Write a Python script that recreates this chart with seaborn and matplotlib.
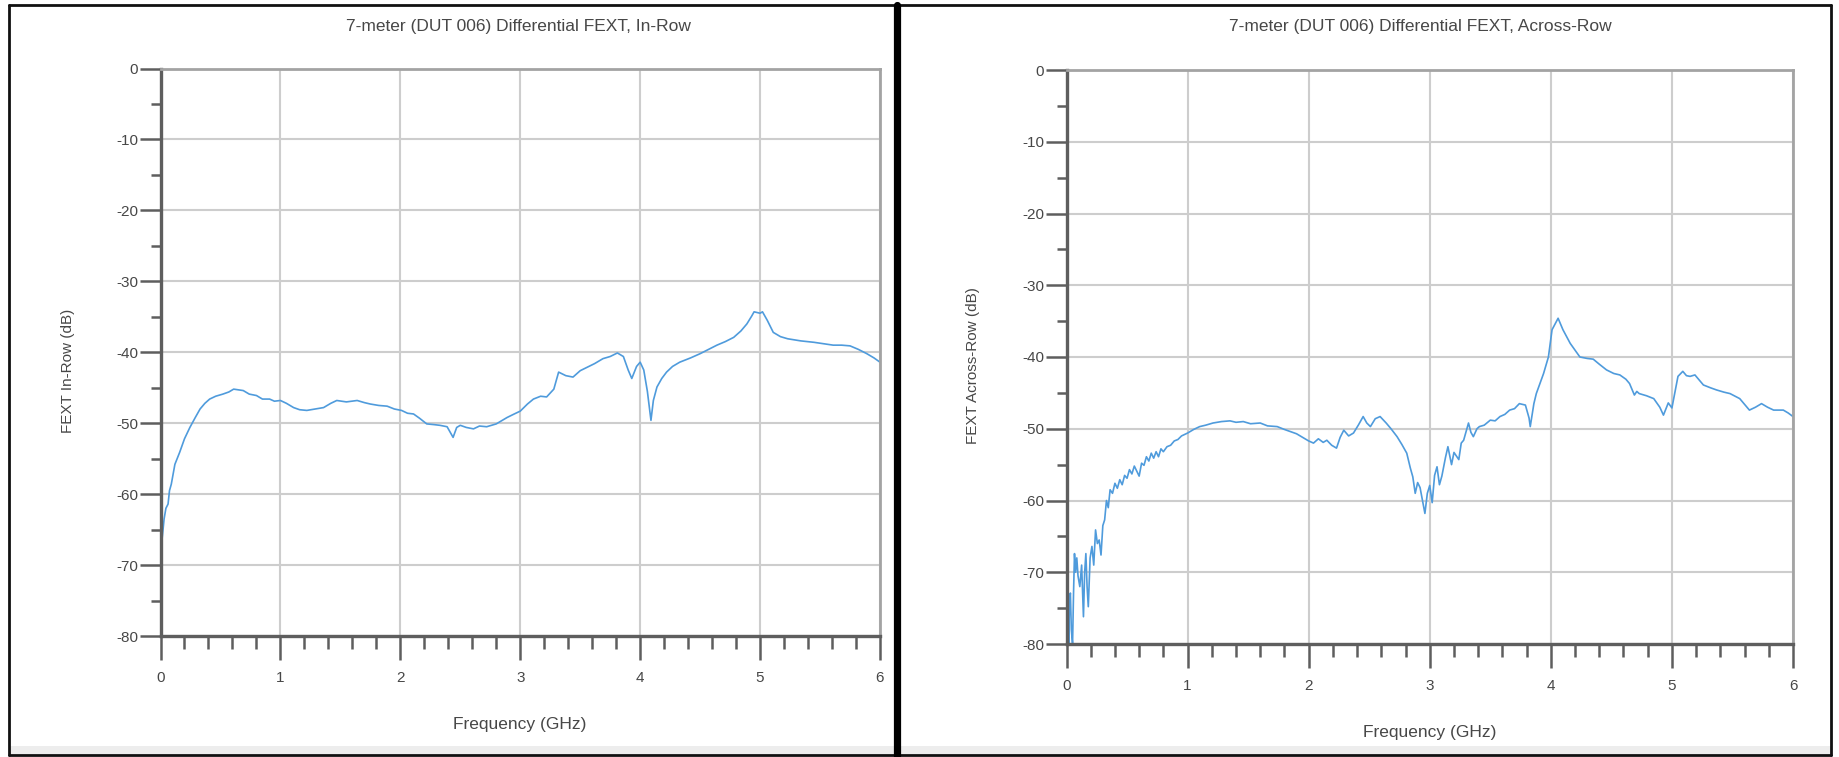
import matplotlib
matplotlib.use("Agg")
import matplotlib.pyplot as plt
from matplotlib.patches import Rectangle
from matplotlib.lines import Line2D
from matplotlib.ticker import MultipleLocator
import numpy as np
import pandas as pd
import seaborn as sns

# ---- measured FEXT, in-row pair ----
inrow_freq = [0.000, 0.008, 0.012, 0.020, 0.030, 0.045, 0.063, 0.075, 0.090, 0.120,
              0.160, 0.200, 0.245, 0.290, 0.330, 0.370, 0.410, 0.460, 0.520, 0.570,
              0.610, 0.650, 0.690, 0.740, 0.800, 0.850, 0.910, 0.950, 1.000, 1.050,
              1.110, 1.160, 1.220, 1.290, 1.360, 1.420, 1.470, 1.550, 1.640, 1.700,
              1.750, 1.820, 1.890, 1.950, 2.010, 2.060, 2.110, 2.160, 2.220, 2.280,
              2.330, 2.390, 2.440, 2.470, 2.500, 2.550, 2.610, 2.660, 2.720, 2.800,
              2.850, 2.890, 2.950, 3.000, 3.060, 3.110, 3.170, 3.220, 3.280, 3.320,
              3.380, 3.440, 3.500, 3.560, 3.620, 3.690, 3.750, 3.810, 3.860, 3.900,
              3.930, 3.970, 4.000, 4.030, 4.060, 4.090, 4.110, 4.140, 4.180, 4.220,
              4.270, 4.330, 4.420, 4.500, 4.570, 4.640, 4.710, 4.780, 4.840, 4.890,
              4.930, 4.950, 5.000, 5.020, 5.060, 5.110, 5.170, 5.230, 5.340, 5.450,
              5.530, 5.610, 5.680, 5.750, 5.820, 5.890, 5.950, 6.000]
inrow_db = [-66.8, -68.0, -66.5, -65.2, -63.5, -62.0, -61.4, -59.5, -58.6, -55.8,
            -54.1, -52.2, -50.6, -49.2, -48.0, -47.2, -46.6, -46.2, -45.9, -45.6,
            -45.2, -45.3, -45.4, -45.9, -46.1, -46.6, -46.6, -46.9, -46.8, -47.2,
            -47.8, -48.1, -48.2, -48.0, -47.8, -47.2, -46.8, -47.0, -46.8, -47.1,
            -47.3, -47.5, -47.6, -48.0, -48.2, -48.6, -48.7, -49.3, -50.1, -50.2,
            -50.3, -50.5, -52.0, -50.6, -50.3, -50.6, -50.8, -50.4, -50.5, -50.1,
            -49.6, -49.2, -48.7, -48.3, -47.3, -46.6, -46.2, -46.3, -45.2, -42.8,
            -43.3, -43.5, -42.6, -42.1, -41.6, -40.9, -40.6, -40.1, -40.6, -42.5,
            -43.7, -42.0, -41.4, -42.5, -45.5, -49.6, -46.8, -44.9, -43.7, -42.8,
            -42.0, -41.4, -40.8, -40.2, -39.6, -39.0, -38.5, -37.9, -37.0, -36.0,
            -34.9, -34.3, -34.5, -34.3, -35.5, -37.2, -37.8, -38.1, -38.4, -38.6,
            -38.8, -39.0, -39.0, -39.1, -39.6, -40.2, -40.8, -41.4]

# ---- measured FEXT, across-row pair ----
across_freq = [0.000, 0.005, 0.010, 0.018, 0.025, 0.032, 0.040, 0.050, 0.058, 0.066,
               0.075, 0.085, 0.095, 0.110, 0.125, 0.140, 0.150, 0.160, 0.170, 0.180,
               0.195, 0.210, 0.225, 0.240, 0.255, 0.270, 0.285, 0.300, 0.315, 0.330,
               0.345, 0.360, 0.380, 0.400, 0.420, 0.440, 0.460, 0.480, 0.500, 0.520,
               0.540, 0.560, 0.580, 0.600, 0.620, 0.640, 0.660, 0.680, 0.700, 0.720,
               0.740, 0.760, 0.780, 0.800, 0.830, 0.860, 0.890, 0.920, 0.950, 1.000,
               1.050, 1.100, 1.150, 1.210, 1.280, 1.350, 1.400, 1.460, 1.520, 1.600,
               1.660, 1.740, 1.800, 1.850, 1.900, 1.960, 2.000, 2.040, 2.080, 2.120,
               2.150, 2.190, 2.230, 2.260, 2.290, 2.330, 2.370, 2.410, 2.450, 2.480,
               2.510, 2.550, 2.590, 2.640, 2.680, 2.730, 2.770, 2.810, 2.840, 2.860,
               2.880, 2.900, 2.920, 2.940, 2.960, 2.980, 3.000, 3.020, 3.040, 3.060,
               3.080, 3.100, 3.130, 3.150, 3.180, 3.200, 3.240, 3.260, 3.280, 3.320,
               3.340, 3.360, 3.390, 3.410, 3.450, 3.500, 3.540, 3.580, 3.620, 3.660,
               3.700, 3.740, 3.790, 3.820, 3.830, 3.860, 3.880, 3.940, 3.980, 4.010,
               4.060, 4.100, 4.160, 4.240, 4.300, 4.350, 4.400, 4.460, 4.520, 4.570,
               4.620, 4.650, 4.690, 4.710, 4.730, 4.790, 4.850, 4.900, 4.930, 4.970,
               5.000, 5.050, 5.090, 5.120, 5.150, 5.190, 5.260, 5.320, 5.370, 5.430,
               5.480, 5.560, 5.600, 5.640, 5.690, 5.740, 5.790, 5.840, 5.920, 5.960,
               6.000]
across_db = [-53.5, -62.0, -70.0, -80.0, -74.0, -72.9, -78.0, -80.0, -73.0, -67.4,
             -70.0, -68.0, -70.5, -72.0, -69.0, -76.2, -70.0, -67.4, -72.0, -74.8,
             -68.0, -66.4, -69.0, -64.1, -66.0, -65.5, -67.6, -63.5, -62.7, -60.0,
             -61.0, -58.5, -59.0, -57.6, -58.3, -57.1, -57.8, -56.5, -56.9, -55.7,
             -56.3, -55.2, -55.9, -56.6, -54.8, -55.1, -53.9, -54.5, -53.4, -54.1,
             -53.2, -53.9, -52.8, -53.2, -52.5, -52.3, -51.7, -51.5, -51.0, -50.6,
             -50.1, -49.7, -49.5, -49.2, -49.0, -48.9, -49.1, -49.0, -49.3, -49.2,
             -49.6, -49.7, -50.1, -50.4, -50.7, -51.3, -51.7, -52.0, -51.4, -51.9,
             -51.6, -52.3, -52.7, -51.2, -50.2, -51.0, -50.6, -49.5, -48.3, -49.2,
             -49.7, -48.6, -48.3, -49.2, -50.0, -51.1, -52.2, -53.4, -55.5, -56.7,
             -59.0, -57.5, -58.2, -60.0, -61.8, -59.0, -57.9, -60.3, -56.5, -55.3,
             -57.8, -56.6, -54.0, -52.5, -55.0, -53.3, -54.3, -52.0, -51.6, -49.2,
             -50.5, -51.1, -50.0, -49.7, -49.5, -48.8, -48.9, -48.3, -48.0, -47.4,
             -47.2, -46.5, -46.7, -48.5, -49.7, -46.5, -45.1, -42.3, -40.0, -36.2,
             -34.6, -36.2, -38.1, -40.0, -40.2, -40.3, -41.0, -41.8, -42.3, -42.5,
             -43.1, -43.7, -45.3, -44.8, -45.1, -45.4, -45.8, -47.0, -48.1, -46.4,
             -47.1, -42.7, -42.0, -42.6, -42.7, -42.5, -43.9, -44.3, -44.6, -44.9,
             -45.1, -45.8, -46.6, -47.4, -47.0, -46.5, -47.0, -47.4, -47.4, -47.8,
             -48.3]

titles = ["7-meter (DUT 006) Differential FEXT, In-Row",
          "7-meter (DUT 006) Differential FEXT, Across-Row"]
ylabels = ["FEXT In-Row (dB)", "FEXT Across-Row (dB)"]
xlabel = "Frequency (GHz)"
xticks = [0, 1, 2, 3, 4, 5, 6]
yticks = [-80, -70, -60, -50, -40, -30, -20, -10, 0]

sns.set_theme(style="white")
plt.rcParams["font.family"] = ["Liberation Sans", "DejaVu Sans"]

W, H = 1839, 757
fig = plt.figure(figsize=(W / 100, H / 100), dpi=100)
fig.patch.set_facecolor("white")


def fx(px):
    return px / W


def fy(py):
    return 1 - py / H


def box(x0, y0, x1, y1):
    return [fx(x0), fy(y1), fx(x1) - fx(x0), fy(y0) - fy(y1)]


ax1 = fig.add_axes(box(160.5, 68.5, 880, 636))
ax2 = fig.add_axes(box(1066.5, 70, 1793, 644))

line_color = "#4f9bdc"
text_color = "#474747"
axis_dark = "#5e5e5e"
axis_light = "#a3a3a3"
grid_color = "#cdcdcd"

panels = [
    (ax1, inrow_freq, inrow_db),
    (ax2, across_freq, across_db),
]

for i, (ax, fr, db) in enumerate(panels):
    df = pd.DataFrame({"freq": fr, "db": db})
    sns.lineplot(data=df, x="freq", y="db", ax=ax, color=line_color,
                 linewidth=1.2, estimator=None, sort=False)
    ax.set_xlim(0, 6)
    ax.set_ylim(-80, 0)
    ax.set_xticks(xticks)
    ax.set_yticks(yticks)
    ax.set_xticklabels([str(t) for t in xticks])
    ax.set_yticklabels([str(t) for t in yticks])
    ax.xaxis.set_minor_locator(MultipleLocator(0.2))
    ax.yaxis.set_minor_locator(MultipleLocator(5))
    ax.grid(True, which="major", color=grid_color, linewidth=1.5)
    ax.grid(False, which="minor")
    ax.set_axisbelow(True)
    for side in ("left", "bottom"):
        ax.spines[side].set_color(axis_dark)
        ax.spines[side].set_linewidth(2.4)
    for side in ("top", "right"):
        ax.spines[side].set_color(axis_light)
        ax.spines[side].set_linewidth(2.0)
    ax.tick_params(which="both", bottom=True, left=True, top=False, right=False)
    ax.tick_params(axis="x", which="major", direction="out", length=17, width=1.8,
                   color=axis_dark, pad=8, labelsize=11, labelcolor=text_color)
    ax.tick_params(axis="x", which="minor", direction="out", length=9, width=1.8,
                   color=axis_dark)
    ax.tick_params(axis="y", which="major", direction="out", length=15, width=1.8,
                   color=axis_dark, pad=1, labelsize=11, labelcolor=text_color)
    ax.tick_params(axis="y", which="minor", direction="out", length=7, width=1.8,
                   color=axis_dark)
    ax.set_xlabel("")
    ax.set_ylabel("")

# titles and axis labels
fig.text(fx(518), fy(27), titles[0], ha="center", va="center",
         fontsize=12.5, color=text_color)
fig.text(fx(1420), fy(27), titles[1], ha="center", va="center",
         fontsize=12.5, color=text_color)
fig.text(fx(520), fy(725), xlabel, ha="center", va="center",
         fontsize=12.5, color=text_color)
fig.text(fx(1430), fy(732), xlabel, ha="center", va="center",
         fontsize=12.5, color=text_color)
fig.text(fx(68), fy(371), ylabels[0], ha="center", va="center", rotation=90,
         fontsize=11, color=text_color)
fig.text(fx(973), fy(366), ylabels[1], ha="center", va="center", rotation=90,
         fontsize=11, color=text_color)

# window frame and panel divider
fig.add_artist(Rectangle((fx(9), fy(754)), fx(1831) - fx(9), fy(746) - fy(754),
                         transform=fig.transFigure, facecolor="#ededed",
                         edgecolor="none", zorder=0))
frame_kw = dict(transform=fig.transFigure, color="#111111", linewidth=2.0)
fig.add_artist(Line2D([fx(9), fx(1831)], [fy(5), fy(5)], **frame_kw))
fig.add_artist(Line2D([fx(9), fx(1831)], [fy(755), fy(755)], **frame_kw))
fig.add_artist(Line2D([fx(9), fx(9)], [fy(5), fy(755)], **frame_kw))
fig.add_artist(Line2D([fx(1831), fx(1831)], [fy(5), fy(755)], **frame_kw))
fig.add_artist(Line2D([fx(896.5), fx(896.5)], [fy(5), fy(757)],
                      transform=fig.transFigure, color="black", linewidth=5.2))

fig.savefig("out.png", dpi=100, facecolor="white")
